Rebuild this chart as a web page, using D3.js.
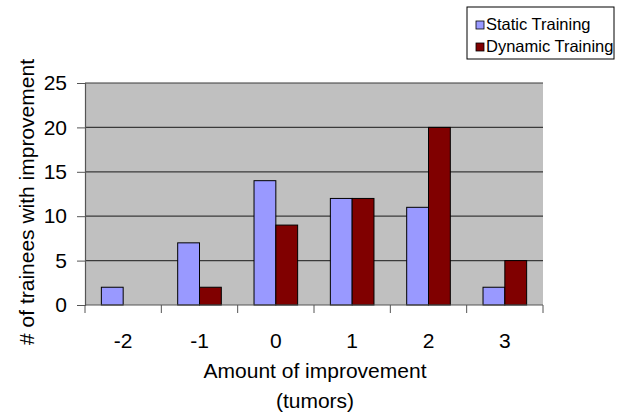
<!DOCTYPE html>
<html>
<head>
<meta charset="utf-8">
<script src="https://cdn.jsdelivr.net/npm/d3@7/dist/d3.min.js"></script>
<style>
  html, body { margin: 0; padding: 0; background: #fff; }
  svg { display: block; font-family: "Liberation Sans", Arial, sans-serif; }
</style>
</head>
<body>
<svg id="chart" width="626" height="412"></svg>
<script>
// Number of trainees per amount of improvement (tumors)
const categories = ["-2", "-1", "0", "1", "2", "3"];
const seriesNames = ["Static Training", "Dynamic Training"];
const staticValues = [2, 7, 14, 12, 11, 2];
const dynamicValues = [0, 2, 9, 12, 20, 5];
const yTicks = [0, 5, 10, 15, 20, 25];

const colors = { "Static Training": "#9999ff", "Dynamic Training": "#800000" };

const svg = d3.select("#chart");
const plot = { left: 85, right: 543, top: 83, bottom: 305 };
const FONT = 21;

const x = d3.scaleBand()
  .domain(categories)
  .range([plot.left, plot.right])
  .paddingInner(0)
  .paddingOuter(0);

const inner = d3.scaleBand()
  .domain(seriesNames)
  .range([0, x.bandwidth()])
  .paddingInner(0)
  .paddingOuter(0.75);

const y = d3.scaleLinear().domain([0, 25]).range([plot.bottom, plot.top]);

// plot area background
svg.append("rect")
  .attr("x", plot.left).attr("y", plot.top)
  .attr("width", plot.right - plot.left).attr("height", plot.bottom - plot.top)
  .attr("fill", "#c0c0c0");

// horizontal gridlines
svg.append("g")
  .selectAll("line")
  .data(yTicks.filter(d => d > 0))
  .join("line")
  .attr("x1", plot.left).attr("x2", plot.right)
  .attr("y1", d => y(d)).attr("y2", d => y(d))
  .attr("stroke", "#3a3a3a").attr("stroke-width", 1.2);

// bars
const rows = categories.map((c, i) => ({
  cat: c,
  vals: [
    { name: seriesNames[0], v: staticValues[i] },
    { name: seriesNames[1], v: dynamicValues[i] }
  ]
}));

svg.append("g")
  .selectAll("g")
  .data(rows)
  .join("g")
  .attr("transform", d => `translate(${x(d.cat)},0)`)
  .selectAll("rect")
  .data(d => d.vals.filter(e => e.v > 0))
  .join("rect")
  .attr("x", d => inner(d.name))
  .attr("y", d => y(d.v))
  .attr("width", inner.bandwidth())
  .attr("height", d => y(0) - y(d.v))
  .attr("fill", d => colors[d.name])
  .attr("stroke", "#000")
  .attr("stroke-width", 1);

// y axis
const yAxis = d3.axisLeft(y).tickValues(yTicks).tickSize(8).tickPadding(10);
const gy = svg.append("g")
  .attr("transform", `translate(${plot.left},0)`)
  .call(yAxis);
gy.select(".domain").attr("stroke", "#555").attr("stroke-width", 1.2);
gy.selectAll(".tick line").attr("stroke", "#555");
gy.selectAll("text").attr("font-size", FONT).attr("fill", "#000")
  .attr("font-family", "Liberation Sans, Arial, sans-serif");

// x axis with ticks at category boundaries
const gx = svg.append("g").attr("transform", `translate(0,${plot.bottom})`);
gx.append("line")
  .attr("x1", plot.left).attr("x2", plot.right)
  .attr("stroke", "#555").attr("stroke-width", 1.2);
const bounds = categories.map(c => x(c)).concat([x.range()[1]]);
gx.selectAll("line.tk")
  .data(bounds)
  .join("line")
  .attr("class", "tk")
  .attr("x1", d => d).attr("x2", d => d)
  .attr("y1", 0).attr("y2", 8)
  .attr("stroke", "#555");
gx.selectAll("text")
  .data(categories)
  .join("text")
  .attr("x", d => x(d) + x.bandwidth() / 2)
  .attr("y", 43)
  .attr("text-anchor", "middle")
  .attr("font-size", FONT)
  .text(d => d);

// axis titles
svg.append("text")
  .attr("x", 315).attr("y", 378)
  .attr("text-anchor", "middle")
  .attr("font-size", FONT)
  .text("Amount of improvement");
svg.append("text")
  .attr("x", 315).attr("y", 408)
  .attr("text-anchor", "middle")
  .attr("font-size", FONT)
  .text("(tumors)");
svg.append("text")
  .attr("transform", "translate(34,202) rotate(-90)")
  .attr("text-anchor", "middle")
  .attr("font-size", FONT)
  .text("# of trainees with improvement");

// legend
const legend = svg.append("g").attr("transform", "translate(467,7)");
legend.append("rect")
  .attr("width", 147).attr("height", 52)
  .attr("fill", "#fff").attr("stroke", "#000").attr("stroke-width", 1);
const li = legend.selectAll("g.item")
  .data(seriesNames)
  .join("g")
  .attr("class", "item")
  .attr("transform", (d, i) => `translate(9,${14 + i * 22})`);
li.append("rect")
  .attr("width", 8).attr("height", 8)
  .attr("fill", d => colors[d]).attr("stroke", "#000").attr("stroke-width", 0.8);
li.append("text")
  .attr("x", 10).attr("y", 8.5)
  .attr("font-size", 16.5)
  .text(d => d);
</script>
</body>
</html>
